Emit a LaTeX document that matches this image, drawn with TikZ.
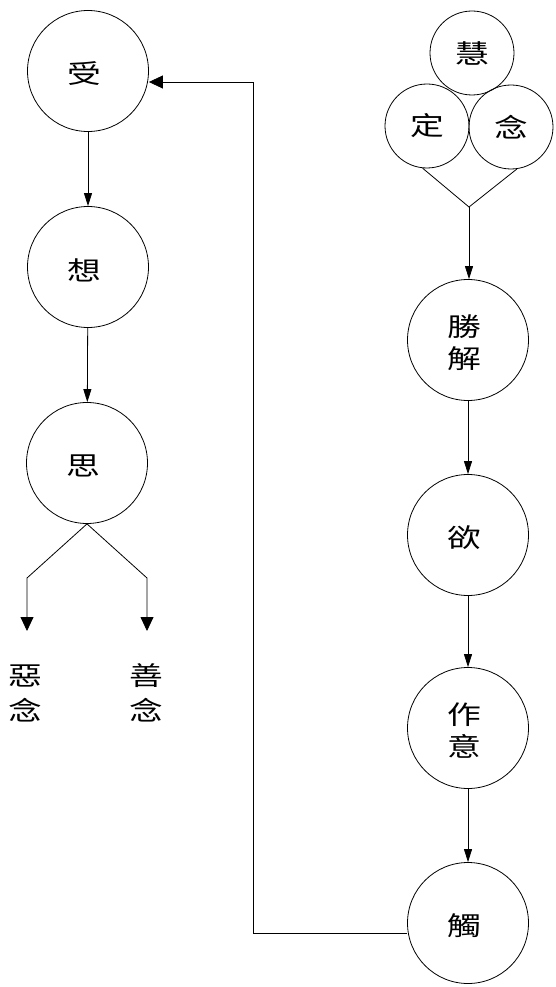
\documentclass[tikz,border=0pt]{standalone}
\usepackage{fontspec}
\newfontfamily\cjk[FakeStretch=1.3]{Noto Sans CJK TC}
\usetikzlibrary{arrows.meta}
\begin{document}
\begin{tikzpicture}[x=1pt,y=-1pt,
  circ/.style={draw, circle, line width=0.8pt, inner sep=0pt, font=\cjk\fontsize{26}{32}\selectfont, align=center},
  bigc/.style={circ, minimum size=121pt},
  smallc/.style={circ, minimum size=84pt},
  txt/.style={font=\cjk\fontsize{26}{32}\selectfont, align=center, inner sep=0pt, xshift=-4pt, yshift=-3pt},
  conn/.style={line width=0.8pt, -{Triangle[width=8pt,length=13pt]}},
  conntwo/.style={line width=0.8pt, -{Triangle[width=13pt,length=14pt]}},
  lbl/.style={font=\cjk\fontsize{26}{35}\selectfont, align=center, inner sep=0pt}]
\useasboundingbox (0,0) rectangle (556,987);
% left column
\node[bigc, label={[txt]center:受}] (shou) at (88,71) {};
\node[bigc, label={[txt]center:想}] (xiang) at (88,267) {};
\node[bigc, label={[txt]center:思}] (si) at (87,463) {};
\node[lbl] (e) at (25,693) {惡\\念};
\node[lbl] (shan) at (146,693) {善\\念};
% right column
\node[smallc] (hui) at (472,53) {慧};
\node[smallc] (ding) at (427,126) {定};
\node[smallc] (nian) at (511,127) {念};
\node[bigc, label={[txt]center:勝\\解}] (sj) at (468,340) {};
\node[bigc, label={[txt]center:欲}] (yu) at (468,535) {};
\node[bigc, label={[txt]center:作\\意}] (zy) at (468,728) {};
\node[bigc, label={[txt]center:觸}] (chu) at (468,923) {};
% connectors
\coordinate (vj) at (469,207);
\draw[line width=0.8pt] (ding.-96) -- (vj) -- (nian.-82);
\draw[conn] (vj) -- (vj |- sj.north);
\draw[conn] (sj) -- (yu);
\draw[conn] (yu) -- (zy);
\draw[conn] (zy) -- (chu);
\draw[conn] (shou) -- (xiang);
\draw[conn] (xiang) -- (si);
\coordinate (bl) at (27,578);
\coordinate (br) at (147,578);
\coordinate (el) at (27,631);
\coordinate (er) at (147,631);
\draw[conntwo] (si.south) -- (bl) -- (el);
\draw[conntwo] (si.south) -- (br) -- (er);
\coordinate (fb1) at (253,933);
\coordinate (fb2) at (253,82);
\draw[conntwo] (chu.west |- fb1) -- (fb1) -- (fb2) -- (fb2 -| shou.east);
\end{tikzpicture}
\end{document}
